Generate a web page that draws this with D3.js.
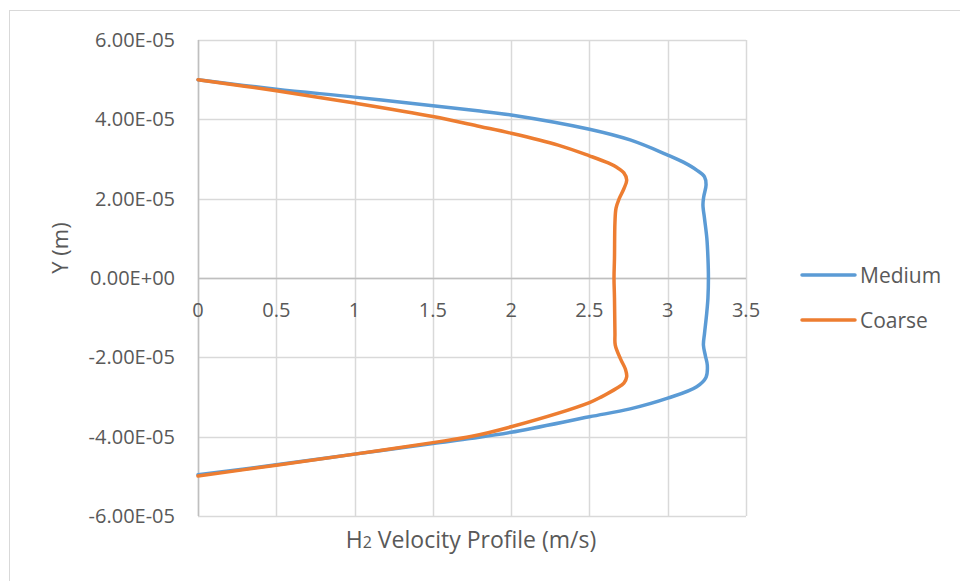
<!DOCTYPE html>
<html>
<head>
<meta charset="utf-8">
<script src="https://cdn.jsdelivr.net/npm/d3@7"></script>
<style>
  html, body { margin: 0; padding: 0; background: #fff; }
  svg { display: block; }
  text { font-family: "Open Sans", "Liberation Sans", sans-serif; fill: #595959; }
</style>
</head>
<body>
<svg id="chart" width="960" height="581"></svg>
<script>
// ---- data (velocity m/s, Y in units of 1e-5 m) ----
const seriesNames = ["Medium", "Coarse"];
const seriesColors = ["#5b9bd5", "#ed7d31"];

const mediumVel = [0, 0.5, 1.0, 1.5, 1.8, 2.0, 2.5, 2.76, 3.0, 3.1, 3.185, 3.235, 3.245, 3.23, 3.225, 3.235, 3.25, 3.257, 3.26, 3.257, 3.249, 3.235, 3.228, 3.24, 3.253, 3.245, 3.185, 3.0, 2.76, 2.5, 2.0, 1.75, 1.5, 1.0, 0.5, 0];
const mediumY   = [5.0, 4.76, 4.56, 4.34, 4.21, 4.11, 3.75, 3.48, 3.10, 2.92, 2.72, 2.55, 2.35, 2.05, 1.84, 1.5, 1.0, 0.5, 0, -0.5, -0.89, -1.4, -1.69, -1.95, -2.2, -2.5, -2.74, -3.03, -3.3, -3.5, -3.89, -4.04, -4.17, -4.44, -4.71, -4.96];

const coarseVel = [0, 0.5, 1.0, 1.5, 1.8, 2.0, 2.3, 2.5, 2.62, 2.674, 2.72, 2.738, 2.72, 2.69, 2.67, 2.663, 2.66, 2.657, 2.66, 2.663, 2.665, 2.7, 2.73, 2.738, 2.72, 2.674, 2.58, 2.5, 2.0, 1.75, 1.5, 1.0, 0.5, 0];
const coarseY   = [5.0, 4.72, 4.41, 4.07, 3.82, 3.65, 3.35, 3.08, 2.9, 2.79, 2.65, 2.47, 2.25, 2.0, 1.76, 1.4, 0.5, 0, -0.5, -1.4, -1.69, -2.05, -2.3, -2.49, -2.65, -2.78, -2.99, -3.14, -3.75, -3.99, -4.15, -4.44, -4.72, -4.99];

const xTicks = [0, 0.5, 1, 1.5, 2, 2.5, 3, 3.5];
const yTicks = [6, 4, 2, 0, -2, -4, -6];
const yTickLabels = ["6.00E-05", "4.00E-05", "2.00E-05", "0.00E+00", "-2.00E-05", "-4.00E-05", "-6.00E-05"];

(function () {
// ---- layout ----
const svg = d3.select("#chart");
const pLeft = 198, pRight = 746, pTop = 40, pBottom = 516;
const x = d3.scaleLinear().domain([0, 3.5]).range([pLeft, pRight]);
const y = d3.scaleLinear().domain([-6, 6]).range([pBottom, pTop]);

// outer chart border
svg.append("rect").attr("x", 9.5).attr("y", 10.5).attr("width", 1000).attr("height", 1000)
  .attr("fill", "none").attr("stroke", "#d9d9d9").attr("stroke-width", 1);

// gridlines
svg.append("g").selectAll("line").data(xTicks).join("line")
  .attr("x1", d => Math.round(x(d)) + 0.5).attr("x2", d => Math.round(x(d)) + 0.5)
  .attr("y1", pTop).attr("y2", pBottom)
  .attr("stroke", "#d9d9d9").attr("stroke-width", 1.5);
svg.append("g").selectAll("line").data(yTicks).join("line")
  .attr("y1", d => Math.round(y(d)) + 0.5).attr("y2", d => Math.round(y(d)) + 0.5)
  .attr("x1", pLeft).attr("x2", pRight)
  .attr("stroke", "#d9d9d9").attr("stroke-width", 1.5);

// axis lines
svg.append("line").attr("x1", Math.round(x(0)) + 0.5).attr("x2", Math.round(x(0)) + 0.5)
  .attr("y1", pTop).attr("y2", pBottom).attr("stroke", "#bfbfbf").attr("stroke-width", 1.5);
svg.append("line").attr("x1", pLeft).attr("x2", pRight)
  .attr("y1", Math.round(y(0)) + 0.5).attr("y2", Math.round(y(0)) + 0.5)
  .attr("stroke", "#bfbfbf").attr("stroke-width", 1.5);

// tick labels
svg.append("g").selectAll("text").data(xTicks).join("text")
  .attr("x", d => x(d)).attr("y", y(0) + 39)
  .attr("text-anchor", "middle").attr("font-size", 20)
  .text(d => d3.format("")(d));
svg.append("g").selectAll("text").data(yTicks).join("text")
  .attr("x", 175).attr("y", d => y(d) + 7)
  .attr("text-anchor", "end").attr("font-size", 20)
  .text((d, i) => yTickLabels[i]);

// axis titles
svg.append("text").attr("transform", "translate(68,248) rotate(-90)")
  .attr("text-anchor", "middle").attr("font-size", 22).text("Y (m)");
const xt = svg.append("text").attr("x", 471).attr("y", 548)
  .attr("text-anchor", "middle").attr("font-size", 23);
xt.append("tspan").text("H");
xt.append("tspan").attr("font-size", 16).text("2");
xt.append("tspan").text(" Velocity Profile (m/s)");

// lines
const line = d3.line().x(d => x(d[0])).y(d => y(d[1])).curve(d3.curveCatmullRom.alpha(0.5));
const series = [
  d3.zip(mediumVel, mediumY),
  d3.zip(coarseVel, coarseY)
];
svg.append("g").selectAll("path").data(series).join("path")
  .attr("d", line).attr("fill", "none")
  .attr("stroke", (d, i) => seriesColors[i]).attr("stroke-width", 3.5)
  .attr("stroke-linejoin", "round").attr("stroke-linecap", "round");

// legend
const lg = svg.append("g").selectAll("g").data(seriesNames).join("g")
  .attr("transform", (d, i) => `translate(0,${275 + i * 45})`);
lg.append("line").attr("x1", 802).attr("x2", 855).attr("y1", 0).attr("y2", 0)
  .attr("stroke", (d, i) => seriesColors[i]).attr("stroke-width", 3.5).attr("stroke-linecap", "round");
lg.append("text").attr("x", 860).attr("y", 7.5).attr("font-size", 21).text(d => d);
})();
</script>
</body>
</html>
